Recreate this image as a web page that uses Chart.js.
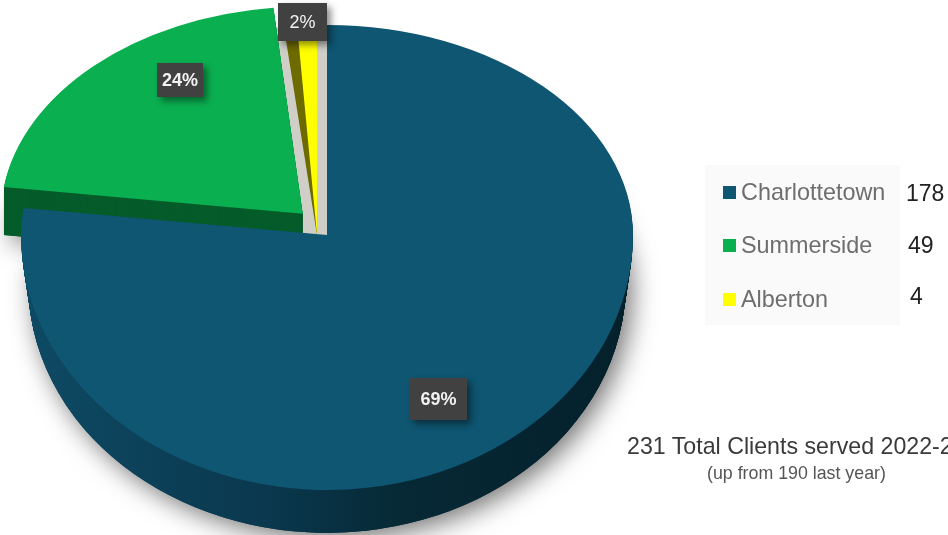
<!DOCTYPE html>
<html>
<head>
<meta charset="utf-8">
<title>Clients served</title>
<script src="https://cdn.jsdelivr.net/npm/chart.js@4"></script>
<style>
    html, body { margin: 0; padding: 0; background: #fff; }
    body { position: relative; width: 948px; height: 535px; overflow: hidden; font-family: "Liberation Sans", Arial, sans-serif; }
    #pie { position: absolute; left: 0; top: 0; }
    .slice-tag { position: absolute; display: flex; align-items: center; justify-content: center; background: #414141; color: #f2f2f2; box-shadow: 4px 4px 7px rgba(0, 0, 0, .45); }
    .legend-panel { position: absolute; left: 705px; top: 165px; width: 195px; height: 160px; background: #fafafa; }
    .legend-row { position: absolute; left: 0; white-space: nowrap; font-size: 23.4px; line-height: 26px; color: #6e6e6e; }
    .legend-row i { position: absolute; left: 18px; top: 7px; width: 13px; height: 13px; }
    .legend-row span { position: absolute; left: 36px; top: 0; }
    .legend-count { position: absolute; font-size: 23px; line-height: 26px; color: #222; }
    .total { position: absolute; left: 627px; top: 433px; white-space: nowrap; font-size: 23.2px; line-height: 26px; color: #3a3a3a; }
    .previous { position: absolute; left: 707px; top: 463px; white-space: nowrap; font-size: 17.8px; line-height: 20px; color: #555; }
</style>
</head>
<body>
<canvas id="pie" width="948" height="535"></canvas>
<div class="legend-panel" id="legend"></div>
<div id="counts"></div>
<div id="tags"></div>
<div class="total">231 Total Clients served 2022-23</div>
<div class="previous">(up from 190 last year)</div>

<script>
const categories = ["Charlottetown", "Summerside", "Alberton"];
const clientCounts = [178, 49, 4];
const percentLabels = ["69%", "24%", "2%"];
const faceColors = ["#0f5672", "#0ab050", "#ffff00"];
const wallColors = ["#0a3448", "#055c2a", "#6d6a00"];

// where the pie sits on the page and how much it is squashed above and below the apex
const RADIUS = 306;
const GREEN_RADIUS = 301;
const GREEN_SHEAR = -0.012;
const GREEN_LIFT = -4;
const GREEN_DEPTH = 48;
const APEX_X = 327;
const APEX_Y = 235;
const SQUASH_TOP = 210 / RADIUS;
const SQUASH_BOTTOM = 255 / RADIUS;
const DEPTH = 49;
const WALL_TAPER = 0.15;

const TAG_BOXES = [
    { left: 410, top: 378, width: 57, height: 42, font: "bold 18px 'Liberation Sans'" },
    { left: 157, top: 63, width: 46, height: 34, font: "bold 18px 'Liberation Sans'" },
    { left: 278, top: 3, width: 49, height: 38, font: "18px 'Liberation Sans'" }
];
const ROW_TOPS = [179, 232, 286];
const COUNT_SPOTS = [[906, 180], [908, 232], [910, 283]];

function reshaped(arc, changes) {
    const copy = Object.create(arc);
    const { fill, ...props } = changes;
    Object.assign(copy, props);
    copy.options = { ...arc.options, backgroundColor: fill || arc.options.backgroundColor };
    return copy;
}

// paints through two half-page clips so the top and bottom of the pie get their own squash
function drawArc(ctx, arc, origin, dy = 0, shear = 0) {
    [[-100, APEX_Y + dy, SQUASH_TOP], [APEX_Y + dy, 800, SQUASH_BOTTOM]].forEach(([from, to, squash]) => {
        ctx.save();
        ctx.beginPath();
        ctx.rect(-100, from, 1200, to - from);
        ctx.clip();
        ctx.translate(APEX_X, APEX_Y + dy);
        ctx.scale(1, squash);
        ctx.transform(1, 0, shear, 1, 0, 0);
        ctx.translate(-origin.x, -origin.y);
        arc.draw(ctx);
        ctx.restore();
    });
}

const pie3d = {
    id: "pie3d",
    beforeDatasetsDraw(chart) {
        const ctx = chart.ctx;
        const [blue, green, yellow] = chart.getDatasetMeta(0).data;
        const origin = { x: blue.x, y: blue.y };

        const sideFill = ctx.createLinearGradient(blue.x - RADIUS, 0, blue.x + RADIUS, 0);
        sideFill.addColorStop(0, "#0e4a64");
        sideFill.addColorStop(0.4, "#0a384e");
        sideFill.addColorStop(0.62, "#062935");
        sideFill.addColorStop(1, "#04202b");
        const wallAt = dy => reshaped(blue, { fill: sideFill, outerRadius: RADIUS - dy * WALL_TAPER });

        const greenFace = reshaped(green, { outerRadius: GREEN_RADIUS });
        const greenWall = reshaped(green, { outerRadius: GREEN_RADIUS, fill: wallColors[1] });

        // soft drop shadow under the lowest layer
        ctx.save();
        ctx.shadowColor = "rgba(0, 0, 0, .55)";
        ctx.shadowBlur = 26;
        ctx.shadowOffsetX = 6;
        ctx.shadowOffsetY = 6;
        drawArc(ctx, wallAt(DEPTH), origin, DEPTH);
        drawArc(ctx, greenWall, origin, GREEN_LIFT + GREEN_DEPTH, GREEN_SHEAR);
        ctx.restore();
        for (let dy = DEPTH; dy > 0; dy--) drawArc(ctx, wallAt(dy), origin, dy);

        // pale cut face behind the small slice, wide enough to tuck under the green one
        const gap = reshaped(yellow, {
            y: yellow.y + 95,
            startAngle: yellow.endAngle - 0.25,
            circumference: 0.25,
            outerRadius: 401,
            fill: "#cfcfc8"
        });
        drawArc(ctx, gap, origin);

        for (let dy = GREEN_DEPTH; dy > 0; dy--) drawArc(ctx, greenWall, origin, GREEN_LIFT + dy, GREEN_SHEAR);

        const smallX = yellow.x - 10;
        drawArc(ctx, reshaped(yellow, { x: smallX, fill: wallColors[2] }), origin);
        const faceStart = yellow.startAngle + yellow.circumference * 0.4;
        drawArc(ctx, reshaped(yellow, { x: smallX, startAngle: faceStart, circumference: yellow.endAngle - faceStart }), origin);

        drawArc(ctx, greenFace, origin, GREEN_LIFT, GREEN_SHEAR);
        drawArc(ctx, blue, origin);
        return false;
    }
};

new Chart(document.getElementById("pie"), {
    type: "pie",
    data: {
        labels: categories,
        datasets: [{ data: clientCounts, backgroundColor: faceColors, borderWidth: 0, offset: [0, 140, 0] }]
    },
    options: {
        responsive: false,
        animation: false,
        events: [],
        radius: RADIUS,
        plugins: { legend: { display: false }, tooltip: { enabled: false } }
    },
    plugins: [pie3d]
});

document.getElementById("legend").innerHTML = categories.map((name, i) => `
    <div class="legend-row" style="top:${ROW_TOPS[i] - 165}px">
        <i style="background:${faceColors[i]}"></i><span>${name}</span>
    </div>
`).join("");

document.getElementById("counts").innerHTML = clientCounts.map((count, i) =>
    `<div class="legend-count" style="left:${COUNT_SPOTS[i][0]}px;top:${COUNT_SPOTS[i][1]}px">${count}</div>`
).join("");

document.getElementById("tags").innerHTML = percentLabels.map((label, i) => {
    const box = TAG_BOXES[i];
    return `<div class="slice-tag" style="left:${box.left}px;top:${box.top}px;width:${box.width}px;height:${box.height}px;font:${box.font}">${label}</div>`;
}).join("");
</script>
</body>
</html>
